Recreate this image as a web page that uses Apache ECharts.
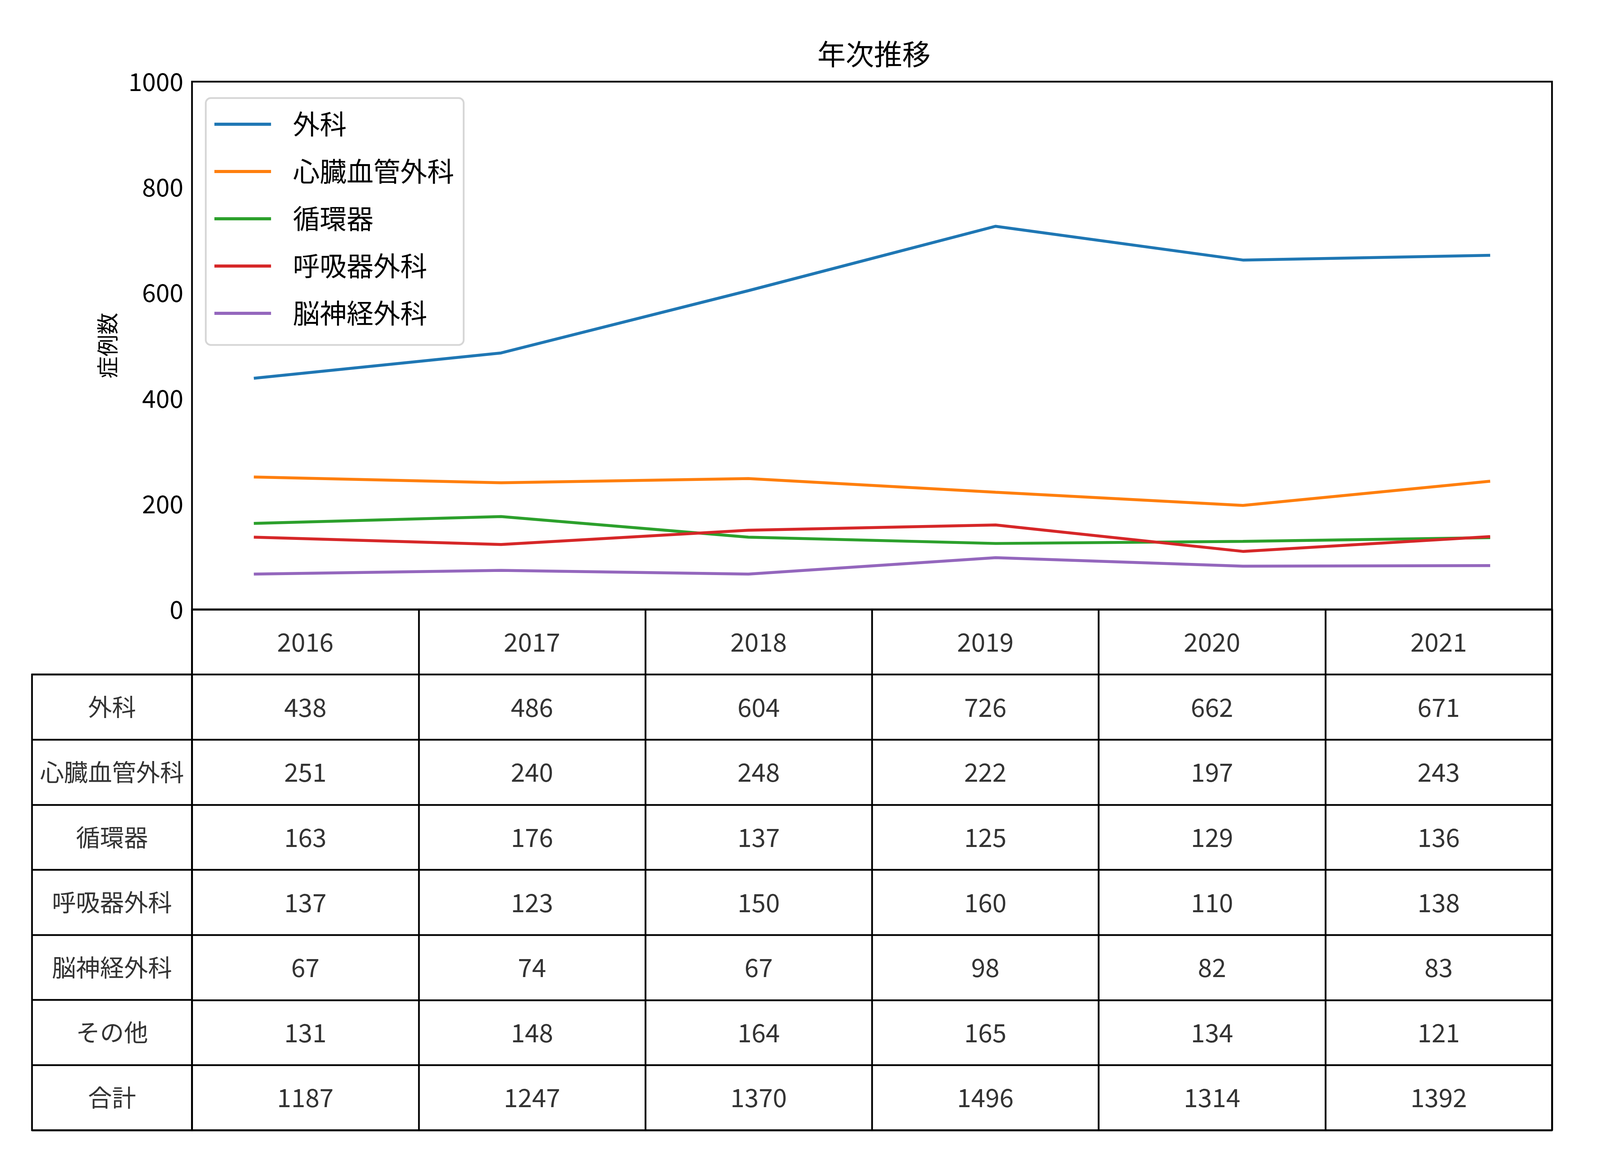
<!DOCTYPE html>
<html><head><meta charset="utf-8">
<script src="https://cdn.jsdelivr.net/npm/echarts@6/dist/echarts.min.js"></script>
<style>html,body{margin:0;padding:0;background:#fff;overflow:hidden}#c{width:100vw;height:100vh}</style>
</head><body><div id="c"></div>
<script>
const years = ['2016', '2017', '2018', '2019', '2020', '2021'];
const seriesNames = ['外科', '心臓血管外科', '循環器', '呼吸器外科', '脳神経外科'];
const geka = [438, 486, 604, 726, 662, 671];
const shinzo = [251, 240, 248, 222, 197, 243];
const junkanki = [163, 176, 137, 125, 129, 136];
const kokyuki = [137, 123, 150, 160, 110, 138];
const noshinkei = [67, 74, 67, 98, 82, 83];
const sonota = [131, 148, 164, 165, 134, 121];
const gokei = [1187, 1247, 1370, 1496, 1314, 1392];
const tableRowNames = ['外科', '心臓血管外科', '循環器', '呼吸器外科', '脳神経外科', 'その他', '合計'];
const colors = ['#1f77b4', '#ff7f0e', '#2ca02c', '#d62728', '#9467bd'];

const FONT = '"Noto Sans CJK JP", "Noto Sans", sans-serif';
const lineData = [geka, shinzo, junkanki, kokyuki, noshinkei];
const tableRows = [geka, shinzo, junkanki, kokyuki, noshinkei, sonota, gokei];

const cellData = [];
years.forEach((y, c) => cellData.push([c, 0, y]));
tableRows.forEach((row, r) => row.forEach((v, c) => cellData.push([c, r + 1, String(v)])));
const labelData = tableRowNames.map((n, r) => [0, r, n]);

// layout designed for a 5000x3000 canvas, scaled to the actual viewport
const el = document.getElementById('c');
const W = el.clientWidth || 5000, H = el.clientHeight || 3000;
const sx = W / 5000, sy = H / 3000;
const fs = Math.sqrt(sx * sy), fl = Math.min(fs, sx * 1.05);
const X = v => v * sx, Y = v => v * sy;
const F = v => Math.round(v * fs * 10) / 10, FL = v => Math.round(v * fl * 10) / 10;

const chart = echarts.init(el, null, {renderer: 'canvas'});
const border = {show: true, borderColor: '#000', borderWidth: 4.5, backgroundColor: 'transparent'};
const split = {show: true, lineStyle: {color: '#000', width: 4.5}};
chart.setOption({
  animation: false,
  backgroundColor: '#fff',
  title: {text: '年次推移', left: X(2725), textAlign: 'center', top: Y(137) - F(80) / 2 - 4,
    textStyle: {fontFamily: FONT, fontSize: F(80), fontWeight: 'normal', color: '#000'}},
  legend: {
    orient: 'vertical', left: X(643), top: Y(251),
    data: seriesNames, icon: 'rect', itemWidth: X(177), itemHeight: Y(8), itemGap: Y(31),
    padding: [Y(22), X(30), Y(36), X(27)],
    borderColor: '#d6d6d6', borderWidth: 4.5, borderRadius: 13, backgroundColor: '#fff',
    textStyle: {fontFamily: FONT, fontSize: FL(80), color: '#000', lineHeight: Y(90), padding: [0, 0, 0, X(62)]}
  },
  grid: [
    Object.assign({left: X(600), top: Y(209), width: X(4250), height: Y(1351)}, border),
    Object.assign({left: X(600), top: Y(1560), width: X(4250), height: Y(1333)}, border),
    Object.assign({left: X(100), top: Y(1726.6), width: X(500), height: Y(1166.4)}, border)
  ],
  xAxis: [
    {type: 'value', gridIndex: 0, min: -0.25, max: 5.25, show: false},
    {type: 'category', gridIndex: 1, data: years, boundaryGap: true,
      axisLine: {show: false}, axisTick: {show: false}, axisLabel: {show: false}, splitLine: split},
    {type: 'category', gridIndex: 2, data: [''], boundaryGap: true, show: false}
  ],
  yAxis: [
    {type: 'value', gridIndex: 0, min: 0, max: 1000, interval: 200,
      axisLine: {show: false, onZero: false}, axisTick: {show: false},
      splitLine: {show: false},
      axisLabel: {margin: X(27), fontFamily: FONT, fontSize: F(70), color: '#000', formatter: v => String(v)},
      name: '症例数', nameLocation: 'middle', nameRotate: 90, nameGap: X(231),
      nameTextStyle: {fontFamily: FONT, fontSize: F(62), color: '#000'}},
    {type: 'category', gridIndex: 1, inverse: true, data: [''].concat(tableRowNames), boundaryGap: true,
      axisLine: {show: false}, axisTick: {show: false}, axisLabel: {show: false}, splitLine: split},
    {type: 'category', gridIndex: 2, inverse: true, data: tableRowNames, boundaryGap: true,
      axisLine: {show: false}, axisTick: {show: false}, axisLabel: {show: false}, splitLine: split}
  ],
  series: lineData.map((arr, i) => ({
    name: seriesNames[i], type: 'line', xAxisIndex: 0, yAxisIndex: 0,
    data: arr.map((v, j) => [j, v]), symbol: 'none',
    lineStyle: {color: colors[i], width: 7.5}, itemStyle: {color: colors[i]}
  })).concat([
    {type: 'scatter', xAxisIndex: 1, yAxisIndex: 1, data: cellData, symbolSize: 1,
      itemStyle: {color: 'rgba(0,0,0,0)'}, silent: true,
      label: {show: true, position: 'inside', formatter: p => p.value[2],
        fontFamily: FONT, fontSize: F(72), color: '#000'}},
    {type: 'scatter', xAxisIndex: 2, yAxisIndex: 2, data: labelData, symbolSize: 1,
      itemStyle: {color: 'rgba(0,0,0,0)'}, silent: true,
      label: {show: true, position: 'inside', formatter: p => p.value[2],
        fontFamily: FONT, fontSize: F(68), color: '#000'}}
  ])
});
</script></body></html>
